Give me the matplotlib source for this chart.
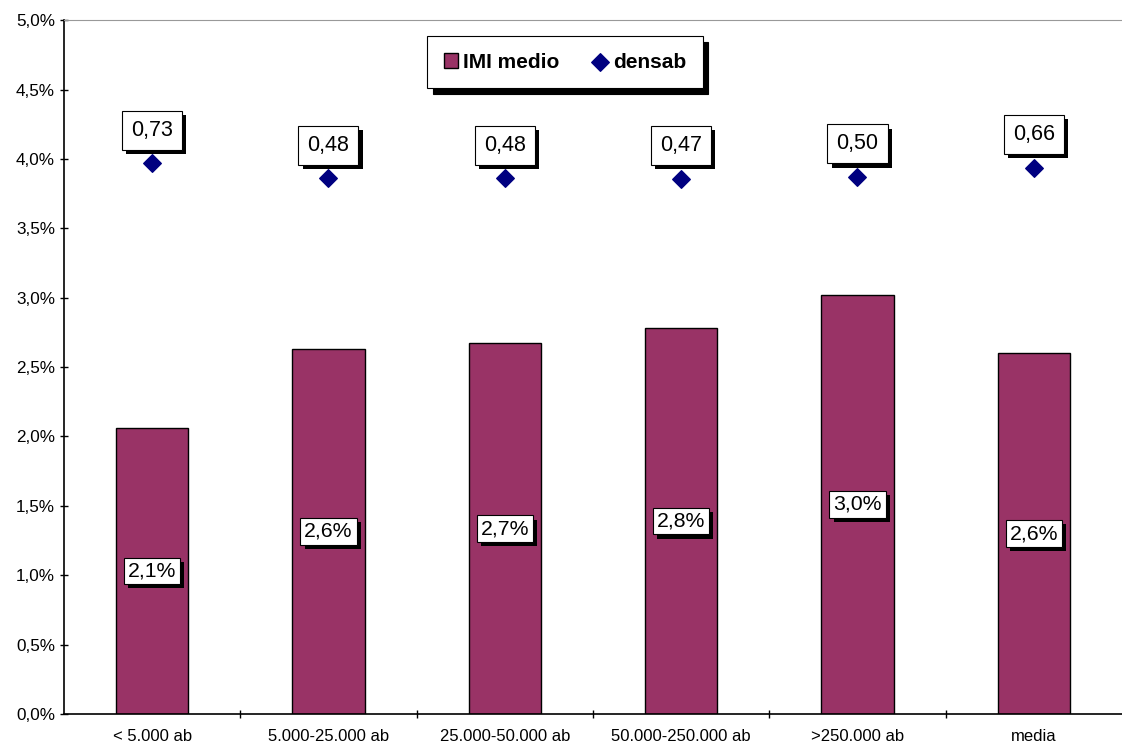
import numpy as np
from matplotlib import pyplot as plt
from matplotlib import patheffects as pe

plt.rcParams['font.family'] = ['Liberation Sans', 'DejaVu Sans']

categories = ['< 5.000 ab', '5.000-25.000 ab', '25.000-50.000 ab',
              '50.000-250.000 ab', '>250.000 ab', 'media']
imi_medio = [2.06, 2.63, 2.67, 2.78, 3.02, 2.60]   # %
densab = [0.73, 0.48, 0.48, 0.47, 0.50, 0.66]
yticks = [0, 0.5, 1.0, 1.5, 2.0, 2.5, 3.0, 3.5, 4.0, 4.5, 5.0]

shadow = [pe.withSimplePatchShadow(offset=(3, -3), shadow_rgbFace='black', alpha=1)]

fig = plt.figure(figsize=(11.22, 7.46), dpi=100)
ax = fig.add_axes([0.057, 0.043, 0.943, 0.930])

x = np.arange(len(categories))
bars = ax.bar(x, imi_medio, width=0.41, color='#993366', edgecolor='black',
              linewidth=1, label='IMI medio', zorder=2)

ax.set_xlim(-0.5, len(categories) - 0.5)
ax.set_ylim(0, 5)
ax.set_yticks(yticks)
ax.set_yticklabels(['{:.1f}%'.format(v).replace('.', ',') for v in yticks], fontsize=12.3)
ax.set_xticks(x)
ax.set_xticklabels(categories, fontsize=12)
ax.tick_params(axis='x', length=0, pad=11)
ax.set_xticks(np.arange(0.5, len(categories) - 0.5, 1), minor=True)
ax.tick_params(axis='x', which='minor', length=6, direction='inout', width=1)
ax.tick_params(axis='y', length=6, direction='inout', width=1)
ax.spines['right'].set_visible(False)
ax.spines['top'].set_color('#999999')
ax.spines['left'].set_linewidth(1.2)
ax.spines['bottom'].set_linewidth(1.2)

for xi, v in zip(x, imi_medio):
    t = ax.text(xi, v / 2, '{:.1f}%'.format(v).replace('.', ','), ha='center', va='center',
                fontsize=15.3, zorder=5,
                bbox=dict(boxstyle='square,pad=0.18', fc='white', ec='black', lw=0.8))
    t.get_bbox_patch().set_path_effects(shadow)

# densab on a hidden secondary axis
ax2 = ax.twinx()
ax2.set_ylim(-8.45, 3.12)
ax2.axis('off')
sc = ax2.scatter(x, densab, marker='D', s=80, color='#000080', label='densab', zorder=3)
for xi, v in zip(x, densab):
    t = ax2.annotate('{:.2f}'.format(v).replace('.', ','), (xi, v), xytext=(0, 24),
                     textcoords='offset points', ha='center', va='center', fontsize=15.5,
                     bbox=dict(boxstyle='square,pad=0.42', fc='white', ec='black', lw=0.8))
    t.get_bbox_patch().set_path_effects(shadow)

leg = ax2.legend([bars, sc], ['IMI medio', 'densab'], loc='center', bbox_to_anchor=(0.4735, 0.9395),
                 ncol=2, fancybox=False, edgecolor='black', framealpha=1,
                 shadow={'color': 'black', 'alpha': 1, 'ox': 4, 'oy': -4},
                 prop={'weight': 'bold', 'size': 15}, handlelength=0.7, handleheight=0.7,
                 handletextpad=0.25, columnspacing=1.6, borderpad=0.8, borderaxespad=0)
leg.get_frame().set_linewidth(0.8)

fig.savefig('out.png', dpi=100)
